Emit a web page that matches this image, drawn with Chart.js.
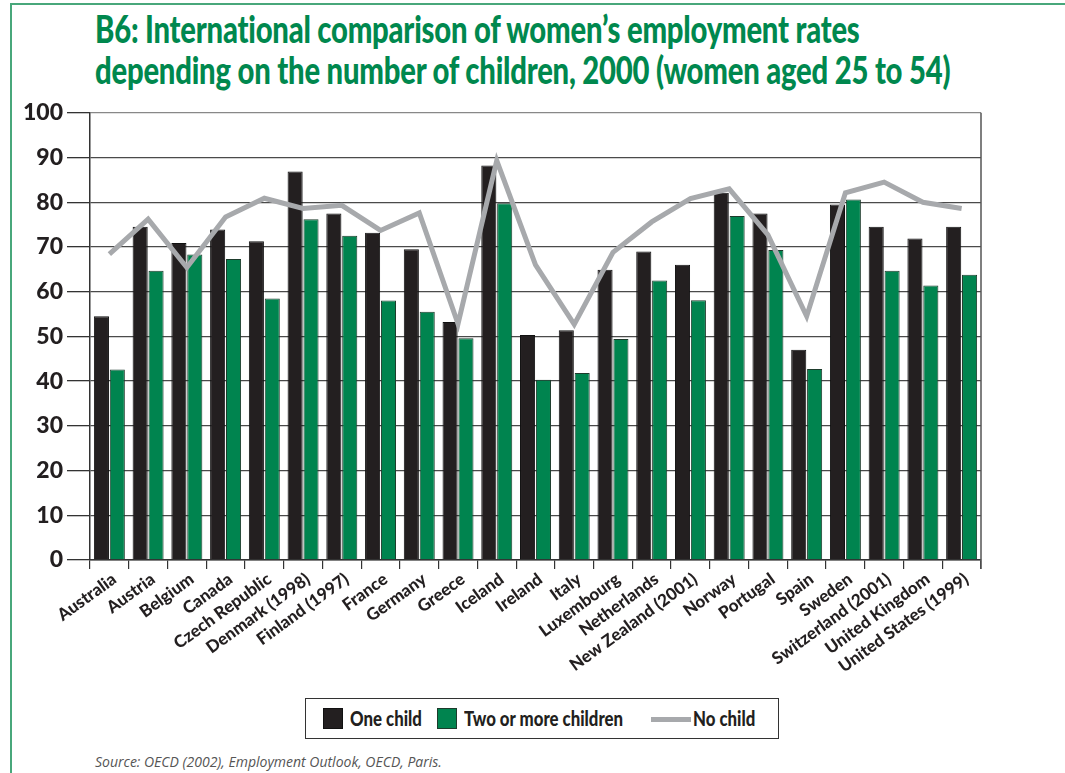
<!DOCTYPE html>
<html>
<head>
<meta charset="utf-8">
<script src="https://cdn.jsdelivr.net/npm/chart.js@4/dist/chart.umd.min.js"></script>
<style>
  html, body { margin: 0; padding: 0; background: #fff; }
  body { width: 1065px; height: 773px; position: relative; overflow: hidden; font-family: Lato, "Open Sans", sans-serif; }
  #frame { position: absolute; left: 10px; top: 3px; right: -5px; bottom: -5px; border-left: 2px solid #48a77b; border-top: 2px solid #48a77b; }
  #title { position: absolute; left: 95px; top: 8px; color: #00884e; font-weight: 900; font-size: 38px; line-height: 41px; white-space: nowrap; transform: scaleX(0.77); transform-origin: left top; letter-spacing: -0.3px; }
  #chartBox { position: absolute; left: 0; top: 95px; }
  #legend { position: absolute; left: 305px; top: 698px; width: 474px; height: 41px; border: 1.5px solid #333; box-sizing: border-box; }
  .sw { position: absolute; top: 9px; width: 20px; height: 21px; box-sizing: border-box; }
  .lt { position: absolute; top: 7px; font-weight: 900; font-size: 20px; color: #231f20; white-space: nowrap; transform: scaleX(0.84); transform-origin: left top; }
  #source { position: absolute; left: 95px; top: 752px; font-style: italic; font-size: 14px; color: #555; font-family: "Open Sans", Lato, sans-serif; }
</style>
</head>
<body>
<div id="frame"></div>
<div id="title">B6: International comparison of women’s employment rates<br>depending on the number of children, 2000 (women aged 25 to 54)</div>
<div id="chartBox"><canvas id="b6Chart" width="1065" height="600"></canvas></div>
<div id="legend">
  <div class="sw" style="left:17px; background:#231f20; border:1px solid #111;"></div>
  <div class="lt" style="left:44px;">One child</div>
  <div class="sw" style="left:131px; background:#00844f; border:1.5px solid #1d3b2c;"></div>
  <div class="lt" style="left:158px;">Two or more children</div>
  <div style="position:absolute; left:345px; top:18px; width:40px; height:5px; background:#a7a9ac;"></div>
  <div class="lt" style="left:387px;">No child</div>
</div>
<div id="source">Source: OECD (2002), Employment Outlook, OECD, Paris.</div>
<script>
  // Countries (x axis)
  const countries = [
    'Australia', 'Austria', 'Belgium', 'Canada', 'Czech Republic', 'Denmark (1998)',
    'Finland (1997)', 'France', 'Germany', 'Greece', 'Iceland', 'Ireland', 'Italy',
    'Luxembourg', 'Netherlands', 'New Zealand (2001)', 'Norway', 'Portugal', 'Spain',
    'Sweden', 'Switzerland (2001)', 'United Kingdom', 'United States (1999)'
  ];

  // Employment rates, %
  const oneChild = [54.5, 74.5, 70.9, 73.9, 71.3, 86.9, 77.5, 73.2, 69.5, 53.2, 88.2, 50.3,
                    51.4, 64.9, 69.0, 66.0, 82.1, 77.5, 47.0, 79.5, 74.5, 71.9, 74.5];
  const twoOrMore = [42.6, 64.7, 68.3, 67.3, 58.5, 76.2, 72.5, 58.0, 55.5, 49.6, 79.8, 40.3,
                     41.8, 49.4, 62.5, 58.1, 76.9, 69.3, 42.7, 80.6, 64.7, 61.4, 63.8];
  const noChild = [68.4, 76.2, 65.4, 76.7, 80.9, 78.6, 79.3, 73.7, 77.6, 52.8, 89.3, 66.0,
                   52.7, 68.8, 75.6, 80.8, 83.0, 72.7, 54.5, 82.1, 84.5, 80.0, 78.6];

  const yTicks = [0, 10, 20, 30, 40, 50, 60, 70, 80, 90, 100];

  // draws the right-hand edge of the plot frame
  const rightEdge = {
    id: 'rightEdge',
    afterDraw(chart) {
      const a = chart.chartArea;
      const ctx = chart.ctx;
      ctx.save();
      ctx.strokeStyle = '#555';
      ctx.lineWidth = 1.5;
      ctx.beginPath();
      ctx.moveTo(a.right, a.top);
      ctx.lineTo(a.right, a.bottom + 9);
      ctx.stroke();
      ctx.restore();
    }
  };

  const ctx = document.getElementById('b6Chart').getContext('2d');
  new Chart(ctx, {
    type: 'bar',
    data: {
      labels: countries,
      datasets: [
        {
          type: 'line',
          label: 'No child',
          data: noChild,
          borderColor: '#a7a9ac',
          borderWidth: 5,
          pointRadius: 0,
          tension: 0,
          fill: false,
          order: 0
        },
        {
          label: 'One child',
          data: oneChild,
          backgroundColor: '#231f20',
          borderColor: '#111',
          borderWidth: 1,
          categoryPercentage: 0.82,
          barPercentage: 0.95,
          order: 1
        },
        {
          label: 'Two or more children',
          data: twoOrMore,
          backgroundColor: '#00844f',
          borderColor: '#1d3b2c',
          borderWidth: 1,
          categoryPercentage: 0.82,
          barPercentage: 0.95,
          order: 1
        }
      ]
    },
    options: {
      responsive: false,
      animation: false,
      devicePixelRatio: 1,
      layout: { padding: { top: 15, right: 84, left: 0, bottom: 0 } },
      plugins: {
        legend: { display: false },
        title: { display: false },
        tooltip: { enabled: false }
      },
      scales: {
        x: {
          offset: true,
          afterFit: (s) => { s.height = 135; },
          grid: { drawOnChartArea: false, tickLength: 9, color: '#333', lineWidth: 1.2 },
          border: { color: '#333', width: 1.5 },
          ticks: {
            color: '#231f20',
            font: { family: 'Lato', weight: '900', size: 17 },
            maxRotation: 36,
            minRotation: 36,
            autoSkip: false,
            labelOffset: 5,
            padding: 0
          }
        },
        y: {
          min: 0,
          max: 100,
          afterFit: (s) => { s.width = 90; },
          afterBuildTicks: (s) => { s.ticks = yTicks.map(v => ({ value: v })); },
          grid: {
            color: (c) => c.tick && c.tick.value === 100 ? '#888' : '#4a4a4a',
            tickColor: '#333',
            lineWidth: 1.3,
            tickLength: 23
          },
          border: { color: '#333', width: 1.5 },
          ticks: {
            color: '#231f20',
            font: { family: 'Lato', weight: '900', size: 23 },
            padding: 4
          }
        }
      }
    },
    plugins: [rightEdge]
  });
</script>
</body>
</html>
